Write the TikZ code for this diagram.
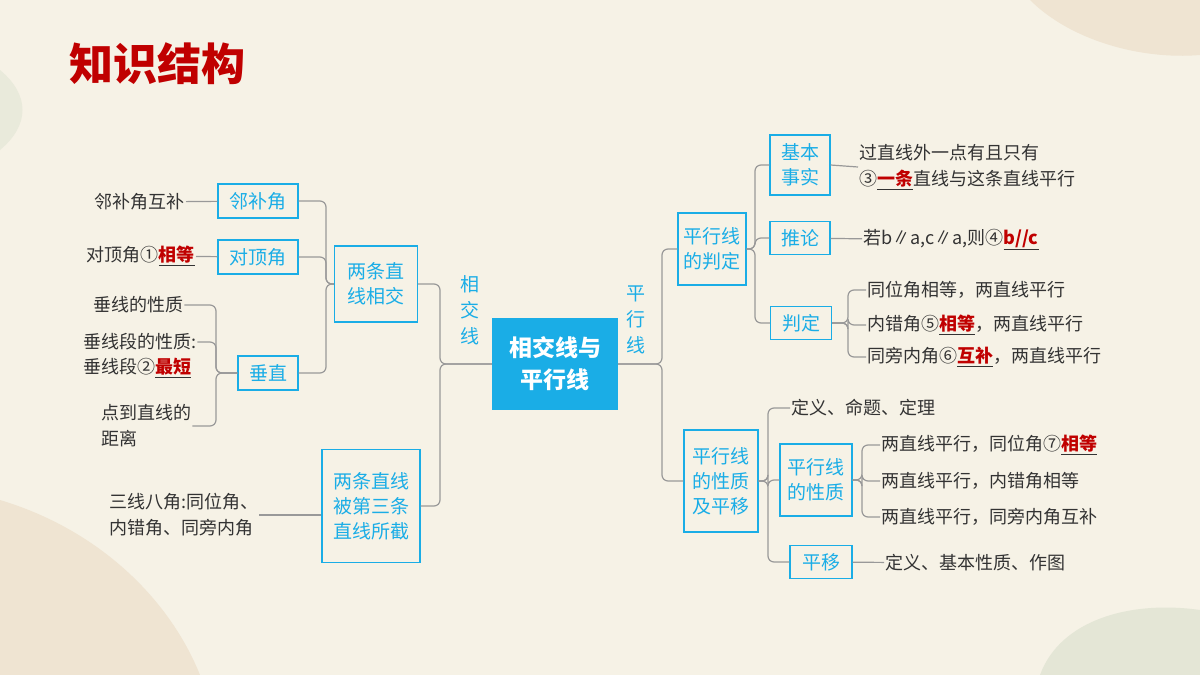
\documentclass[tikz,border=0pt]{standalone}
\usepackage{fontspec}
\setmainfont{Noto Sans CJK SC}
\definecolor{bgcream}{HTML}{F6F2E6}
\definecolor{blobtan}{HTML}{EFE4D2}
\definecolor{blobgreen}{HTML}{E4E6D6}
\definecolor{cyanline}{HTML}{1AADE6}
\definecolor{ansred}{HTML}{C00000}
\definecolor{inkgray}{HTML}{333333}
\newcommand{\ans}[1]{\underline{\textcolor{ansred}{\textbf{#1}}}}
\tikzset{
  box/.style={draw=cyanline,line width=1.4pt,fill=bgcream,text=cyanline,font=\fontsize{19}{25}\selectfont,align=center,inner sep=3pt},
  txt/.style={text=inkgray,font=\fontsize{18}{26}\selectfont,align=left,inner sep=1pt},
  conn/.style={draw=gray!80,line width=1.2pt,rounded corners=6pt}
}
\begin{document}
\begin{tikzpicture}[x=1pt,y=-1pt]
\useasboundingbox (0,0) rectangle (1200,675);
\fill[bgcream] (0,0) rectangle (1200,675);
% background blobs
\fill[blobtan] (0,500) .. controls (100,530) and (170,600) .. (200,675) -- (0,675) -- cycle;
\fill[blobtan] (1030,0) .. controls (1070,40) and (1140,60) .. (1200,55) -- (1200,0) -- cycle;
\fill[blobgreen] (1040,675) .. controls (1060,620) and (1130,600) .. (1200,610) -- (1200,675) -- cycle;
\fill[blobgreen!70!bgcream] (0,70) .. controls (30,95) and (30,125) .. (0,150) -- cycle;

\node[text=ansred,font=\fontsize{44}{50}\selectfont\bfseries,anchor=west] (title) at (66,64) {知识结构};

% centre
\node[fill=cyanline,text=white,font=\fontsize{23}{32}\selectfont\bfseries,align=center,minimum width=126pt,minimum height=92pt] (root) at (555,364) {相交线与\\平行线};
\node[text=cyanline,font=\fontsize{19}{26}\selectfont,align=center] (lxj) at (470,310) {相\\交\\线};
\node[text=cyanline,font=\fontsize{19}{26}\selectfont,align=center] (lpx) at (636,320) {平\\行\\线};

% left side
\node[box,minimum width=83pt,minimum height=76pt] (xj) at (376,284) {两条直\\线相交};
\node[box,minimum width=98pt,minimum height=113pt] (jd) at (371,506) {两条直线\\被第三条\\直线所截};
\node[box,minimum width=80pt,minimum height=34pt] (lbj) at (258,201) {邻补角};
\node[box,minimum width=80pt,minimum height=34pt] (ddj) at (258,257) {对顶角};
\node[box,minimum width=60pt,minimum height=34pt] (cz) at (268,373) {垂直};

\node[txt,anchor=east] (t1) at (186,202) {邻补角互补};
\node[txt,anchor=east] (t2) at (196,256) {对顶角①\ans{相等}};
\node[txt,anchor=west] (t3) at (92,305) {垂线的性质};
\node[txt,anchor=west] (t4) at (82,342) {垂线段的性质:};
\node[txt,anchor=west] (t5) at (82,368) {垂线段②\ans{最短}};
\node[txt,anchor=west] (t6) at (100,426) {点到直线的\\距离};
\node[txt,anchor=west] (t7) at (108,515) {三线八角:同位角、\\内错角、同旁内角};

% right side
\node[box,minimum width=68pt,minimum height=72pt] (pd) at (712,249) {平行线\\的判定};
\node[box,minimum width=74pt,minimum height=102pt] (xz) at (721,481) {平行线\\的性质\\及平移};
\node[box,minimum width=60pt,minimum height=60pt] (jbss) at (800,165) {基本\\事实};
\node[box,minimum width=60pt,minimum height=33pt] (tl) at (800,238) {推论};
\node[box,minimum width=61pt,minimum height=33pt] (pdb) at (801,323) {判定};
\node[box,minimum width=72pt,minimum height=72pt] (xzb) at (816,480) {平行线\\的性质};
\node[box,minimum width=62pt,minimum height=33pt] (py) at (821,562) {平移};

\node[txt,anchor=west] (r1) at (858,167) {过直线外一点有且只有\\③\ans{一条}直线与这条直线平行};
\node[txt,anchor=west] (r2) at (862,240) {若b∥a,c∥a,则④\ans{b//c}};
\node[txt,anchor=west] (r3) at (866,290) {同位角相等，两直线平行};
\node[txt,anchor=west] (r4) at (866,325) {内错角⑤\ans{相等}，两直线平行};
\node[txt,anchor=west] (r5) at (866,357) {同旁内角⑥\ans{互补}，两直线平行};
\node[txt,anchor=west] (r6) at (790,408) {定义、命题、定理};
\node[txt,anchor=west] (r7) at (880,445) {两直线平行，同位角⑦\ans{相等}};
\node[txt,anchor=west] (r8) at (880,481) {两直线平行，内错角相等};
\node[txt,anchor=west] (r9) at (880,517) {两直线平行，同旁内角互补};
\node[txt,anchor=west] (r10) at (884,563) {定义、基本性质、作图};

% connector junctions
\coordinate (b1) at (326,284);
\coordinate (b2) at (216,373);
\coordinate (b0) at (440,364);
\coordinate (b3) at (662,364);
\coordinate (b4) at (755,249);
\coordinate (b5) at (768,481);
\coordinate (b6) at (848,323);
\coordinate (b7) at (862,480);

\foreach \c in {lbj,ddj,cz} \draw[conn] (\c.east) -| (b1) -- (xj.west);
\foreach \c in {t3,t4,t6} \draw[conn] (\c.east) -| (b2) -- (cz.west);
\foreach \c in {xj,jd} \draw[conn] (\c.east) -| (b0) -- (root.west);
\foreach \c in {pd,xz} \draw[conn] (root.east) -- (b3) |- (\c.west);
\foreach \c in {jbss,tl,pdb} \draw[conn] (pd.east) -- (b4) |- (\c.west);
\foreach \c in {r6,xzb,py} \draw[conn] (xz.east) -- (b5) |- (\c.west);
\foreach \c in {r3,r4,r5} \draw[conn] (pdb.east) -- (b6) |- (\c.west);
\foreach \c in {r7,r8,r9} \draw[conn] (xzb.east) -- (b7) |- (\c.west);
\draw[conn] (t1) -- (lbj);
\draw[conn] (t2) -- (ddj);
\draw[conn] (t7.east) -- (t7.east -| jd.west);
\draw[conn] (jbss.east) -- (r1.west);
\draw[conn] (tl) -- (r2);
\draw[conn] (py) -- (r10);
\end{tikzpicture}
\end{document}
